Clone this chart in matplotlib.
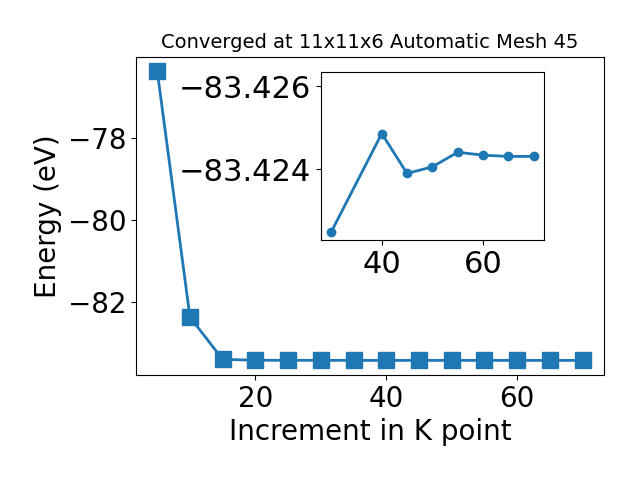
import matplotlib
matplotlib.use("Agg")
import matplotlib.pyplot as plt

kpoints = [5, 10, 15, 20, 25, 30, 35, 40, 45, 50, 55, 60, 65, 70]
energy = [-76.36, -82.37, -83.40, -83.420, -83.422, -83.42249, -83.4235, -83.42486,
          -83.42390, -83.42406, -83.42441, -83.42434, -83.42431, -83.42431]

inset_k = [30, 40, 45, 50, 55, 60, 65, 70]
inset_e = [-83.42249, -83.42486, -83.42390, -83.42406, -83.42441, -83.42434, -83.42431, -83.42431]

fig = plt.figure(figsize=(6.4, 4.8), dpi=100)
ax = fig.add_axes([0.2125, 0.219, 0.731, 0.663])
ax.plot(kpoints, energy, marker='s', markersize=11, linewidth=2, color='#1f77b4')
ax.set_xlabel('Increment in K point', fontsize=20)
ax.set_ylabel('Energy (eV)', fontsize=20)
ax.set_title('Converged at 11x11x6 Automatic Mesh 45', fontsize=14)
ax.tick_params(labelsize=20)
ax.set_yticks([-78, -80, -82])

ins = fig.add_axes([0.5016, 0.5, 0.348, 0.35])
ins.plot(inset_k, inset_e, marker='o', markersize=6, linewidth=2, color='#1f77b4')
ins.ticklabel_format(useOffset=False, axis='y')
ins.set_yticks([-83.426, -83.424])
ins.set_ylim(-83.4223, -83.42634)
ins.set_xticks([40, 60])
ins.tick_params(labelsize=22)

fig.savefig('out.png', dpi=100)
